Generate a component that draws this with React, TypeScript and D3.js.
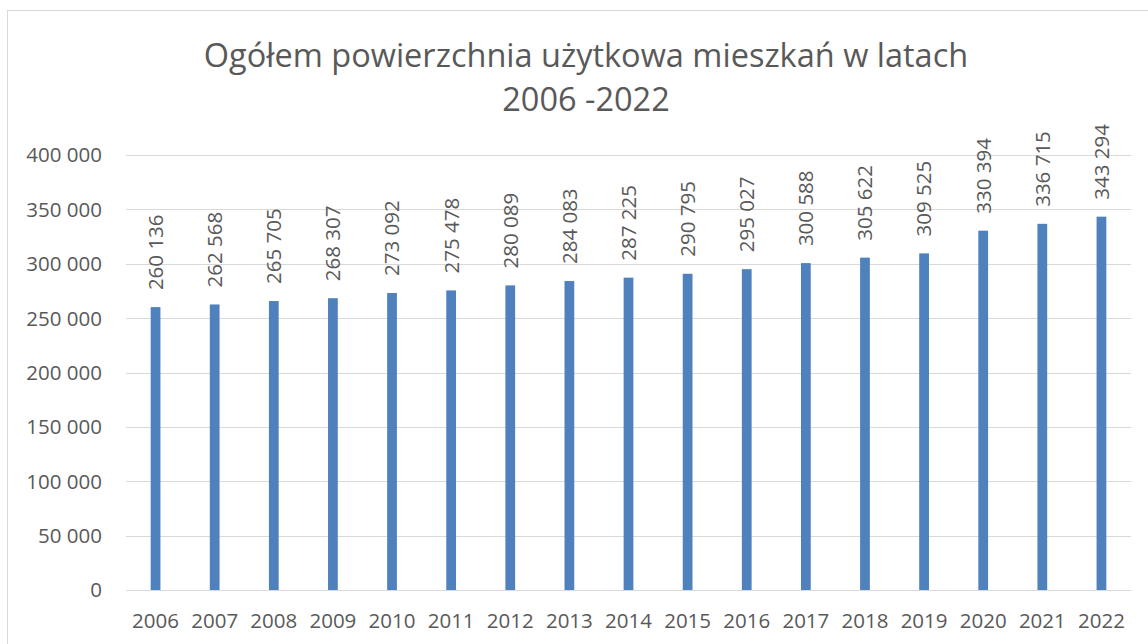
import React from "react";
import * as d3 from "d3";

const years: string[] = ["2006","2007","2008","2009","2010","2011","2012","2013","2014","2015","2016","2017","2018","2019","2020","2021","2022"];
const values: number[] = [260136,262568,265705,268307,273092,275478,280089,284083,287225,290795,295027,300588,305622,309525,330394,336715,343294];
const yTicks: number[] = [0,50000,100000,150000,200000,250000,300000,350000,400000];
const titleLines: string[] = ["Ogółem powierzchnia użytkowa mieszkań w latach", "2006 -2022"];

const W = 1148, H = 644;
const FONT = "'Open Sans', sans-serif";
const TEXT = "#595959";

const fmt = (v: number) => d3.format(",")(v).replace(/,/g, " ");

export default function App() {
  const plotLeft = 126, plotRight = 1131, plotTop = 155, plotBottom = 590;
  const x = d3.scaleBand<string>().domain(years).range([plotLeft, plotRight]).padding(0);
  const y = d3.scaleLinear().domain([0, 400000]).range([plotBottom, plotTop]);
  const bw = x.bandwidth() * 0.165;

  return (
    <svg width={W} height={H} style={{ position: "absolute", left: 0, top: 0, background: "#fff" }}>
      <rect x={0} y={0} width={W} height={H} fill="#fff" />
      <rect x={7.5} y={10.5} width={W + 20} height={H + 20} fill="#fff" stroke="#d9d9d9" strokeWidth={1} />
      <g fontFamily={FONT} fill={TEXT}>
        {titleLines.map((t, i) => (
          <text key={i} x={586} y={67 + i * 44} textAnchor="middle" fontSize={32.5}>{t}</text>
        ))}
        {yTicks.map((t) => (
          <g key={t}>
            <line x1={plotLeft} x2={plotRight} y1={Math.round(y(t)) + 0.5} y2={Math.round(y(t)) + 0.5} stroke="#d9d9d9" strokeWidth={1.2} />
            <text x={102} y={y(t)} dy="0.36em" textAnchor="end" fontSize={20.5}>{fmt(t)}</text>
          </g>
        ))}
        {years.map((yr, i) => {
          const cx = (x(yr) as number) + x.bandwidth() / 2;
          const top = y(values[i]);
          return (
            <g key={yr}>
              <rect x={cx - bw / 2} y={top} width={bw} height={plotBottom - top} fill="#4f81bd" />
              <text transform={`translate(${cx},${top - 17}) rotate(-90)`} dy="0.36em" textAnchor="start" fontSize={20.5}>{fmt(values[i])}</text>
              <text x={cx} y={628} textAnchor="middle" fontSize={20.5}>{yr}</text>
            </g>
          );
        })}
      </g>
    </svg>
  );
}
